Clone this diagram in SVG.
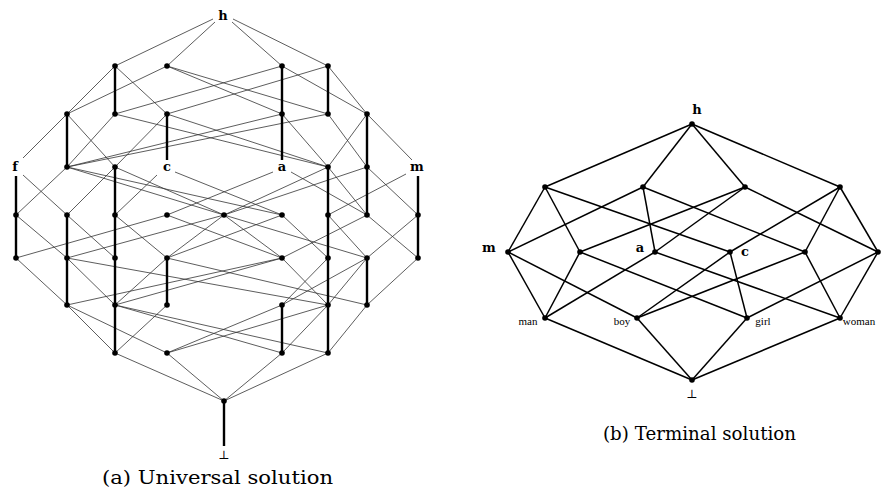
<svg xmlns="http://www.w3.org/2000/svg" width="894" height="493" viewBox="0 0 894 493">
<style>
.e{stroke:#333;stroke-width:0.8;fill:none}
.t{stroke:#000;stroke-width:2.4;fill:none}
.r{stroke:#000;stroke-width:1.5;fill:none}
.d{fill:#000}
.lb{font-family:"DejaVu Serif","Liberation Serif",serif;font-weight:bold;font-size:13px;text-anchor:middle}
.sm{font-family:"Liberation Serif","DejaVu Serif",serif;font-size:11px;text-anchor:middle}
.cap{font-family:"DejaVu Serif","Liberation Serif",serif;font-size:19px}
</style>
<rect width="894" height="493" fill="#fff"/>
<g id="edges-left">
<line class="e" x1="213" y1="19" x2="115" y2="66"/>
<line class="e" x1="215" y1="22" x2="167" y2="66"/>
<line class="e" x1="232" y1="22" x2="282" y2="66"/>
<line class="e" x1="233" y1="19" x2="328" y2="66"/>
<line class="e" x1="115" y1="66" x2="67" y2="114"/>
<line class="e" x1="115" y1="66" x2="167" y2="114"/>
<line class="e" x1="167" y1="66" x2="67" y2="114"/>
<line class="e" x1="167" y1="66" x2="282" y2="114"/>
<line class="e" x1="167" y1="66" x2="328" y2="114"/>
<line class="e" x1="282" y1="66" x2="115" y2="114"/>
<line class="e" x1="282" y1="66" x2="367" y2="114"/>
<line class="e" x1="328" y1="66" x2="167" y2="114"/>
<line class="e" x1="328" y1="66" x2="367" y2="114"/>
<line class="e" x1="67" y1="114" x2="23" y2="158"/>
<line class="e" x1="67" y1="114" x2="115" y2="167"/>
<line class="e" x1="115" y1="114" x2="67" y2="167"/>
<line class="e" x1="115" y1="114" x2="328" y2="167"/>
<line class="e" x1="167" y1="114" x2="115" y2="167"/>
<line class="e" x1="167" y1="114" x2="328" y2="167"/>
<line class="e" x1="282" y1="114" x2="67" y2="167"/>
<line class="e" x1="282" y1="114" x2="328" y2="167"/>
<line class="e" x1="328" y1="114" x2="67" y2="167"/>
<line class="e" x1="328" y1="114" x2="367" y2="167"/>
<line class="e" x1="367" y1="114" x2="328" y2="167"/>
<line class="e" x1="367" y1="114" x2="412" y2="160"/>
<line class="e" x1="23" y1="175" x2="67" y2="215"/>
<line class="e" x1="67" y1="167" x2="16" y2="215"/>
<line class="e" x1="67" y1="167" x2="224" y2="215"/>
<line class="e" x1="67" y1="167" x2="282" y2="215"/>
<line class="e" x1="115" y1="167" x2="67" y2="215"/>
<line class="e" x1="115" y1="167" x2="224" y2="215"/>
<line class="e" x1="157" y1="175" x2="115" y2="215"/>
<line class="e" x1="175" y1="172" x2="282" y2="215"/>
<line class="e" x1="273" y1="172" x2="167" y2="215"/>
<line class="e" x1="291" y1="172" x2="367" y2="215"/>
<line class="e" x1="328" y1="167" x2="367" y2="215"/>
<line class="e" x1="328" y1="167" x2="224" y2="215"/>
<line class="e" x1="367" y1="167" x2="418" y2="215"/>
<line class="e" x1="367" y1="167" x2="224" y2="215"/>
<line class="e" x1="406" y1="174" x2="328" y2="215"/>
<line class="e" x1="16" y1="215" x2="67" y2="258"/>
<line class="e" x1="67" y1="215" x2="115" y2="258"/>
<line class="e" x1="115" y1="215" x2="167" y2="258"/>
<line class="e" x1="167" y1="215" x2="16" y2="258"/>
<line class="e" x1="167" y1="215" x2="282" y2="258"/>
<line class="e" x1="224" y1="215" x2="67" y2="258"/>
<line class="e" x1="224" y1="215" x2="167" y2="258"/>
<line class="e" x1="224" y1="215" x2="282" y2="258"/>
<line class="e" x1="224" y1="215" x2="367" y2="258"/>
<line class="e" x1="282" y1="215" x2="167" y2="258"/>
<line class="e" x1="282" y1="215" x2="328" y2="258"/>
<line class="e" x1="328" y1="215" x2="367" y2="258"/>
<line class="e" x1="367" y1="215" x2="282" y2="258"/>
<line class="e" x1="367" y1="215" x2="418" y2="258"/>
<line class="e" x1="418" y1="215" x2="367" y2="258"/>
<line class="e" x1="16" y1="258" x2="67" y2="305"/>
<line class="e" x1="67" y1="258" x2="115" y2="305"/>
<line class="e" x1="67" y1="258" x2="328" y2="305"/>
<line class="e" x1="167" y1="258" x2="115" y2="305"/>
<line class="e" x1="167" y1="258" x2="367" y2="305"/>
<line class="e" x1="282" y1="258" x2="67" y2="305"/>
<line class="e" x1="282" y1="258" x2="115" y2="305"/>
<line class="e" x1="282" y1="258" x2="328" y2="305"/>
<line class="e" x1="328" y1="258" x2="282" y2="305"/>
<line class="e" x1="367" y1="258" x2="328" y2="305"/>
<line class="e" x1="367" y1="258" x2="282" y2="305"/>
<line class="e" x1="418" y1="258" x2="367" y2="305"/>
<line class="e" x1="67" y1="305" x2="115" y2="353"/>
<line class="e" x1="67" y1="305" x2="167" y2="353"/>
<line class="e" x1="167" y1="305" x2="115" y2="353"/>
<line class="e" x1="115" y1="305" x2="282" y2="353"/>
<line class="e" x1="115" y1="305" x2="328" y2="353"/>
<line class="e" x1="282" y1="305" x2="167" y2="353"/>
<line class="e" x1="328" y1="305" x2="167" y2="353"/>
<line class="e" x1="328" y1="305" x2="282" y2="353"/>
<line class="e" x1="367" y1="305" x2="328" y2="353"/>
<line class="e" x1="115" y1="353" x2="224" y2="401"/>
<line class="e" x1="167" y1="353" x2="224" y2="401"/>
<line class="e" x1="282" y1="353" x2="224" y2="401"/>
<line class="e" x1="328" y1="353" x2="224" y2="401"/>
</g>
<g id="thick-left">
<line class="t" x1="115" y1="66" x2="115" y2="114"/>
<line class="t" x1="67" y1="114" x2="67" y2="167"/>
<line class="t" x1="167" y1="114" x2="167" y2="160"/>
<line class="t" x1="16" y1="176" x2="16" y2="258"/>
<line class="t" x1="67" y1="215" x2="67" y2="305"/>
<line class="t" x1="115" y1="167" x2="115" y2="353"/>
<line class="t" x1="167" y1="258" x2="167" y2="305"/>
<line class="t" x1="224" y1="401" x2="224" y2="446"/>
<line class="t" x1="282" y1="66" x2="282" y2="160"/>
<line class="t" x1="328" y1="66" x2="328" y2="114"/>
<line class="t" x1="367" y1="114" x2="367" y2="215"/>
<line class="t" x1="418" y1="176" x2="418" y2="258"/>
<line class="t" x1="328" y1="167" x2="328" y2="353"/>
<line class="t" x1="367" y1="258" x2="367" y2="305"/>
<line class="t" x1="282" y1="305" x2="282" y2="353"/>
</g>
<g id="nodes-left" class="d">
<circle cx="115" cy="66" r="2.8"/><circle cx="167" cy="66" r="2.8"/><circle cx="282" cy="66" r="2.8"/><circle cx="328" cy="66" r="2.8"/>
<circle cx="67" cy="114" r="2.8"/><circle cx="115" cy="114" r="2.8"/><circle cx="167" cy="114" r="2.8"/><circle cx="282" cy="114" r="2.8"/><circle cx="328" cy="114" r="2.8"/><circle cx="367" cy="114" r="2.8"/>
<circle cx="67" cy="167" r="2.8"/><circle cx="115" cy="167" r="2.8"/><circle cx="328" cy="167" r="2.8"/><circle cx="367" cy="167" r="2.8"/>
<circle cx="16" cy="215" r="2.8"/><circle cx="67" cy="215" r="2.8"/><circle cx="115" cy="215" r="2.8"/><circle cx="167" cy="215" r="2.8"/><circle cx="224" cy="215" r="2.8"/><circle cx="282" cy="215" r="2.8"/><circle cx="328" cy="215" r="2.8"/><circle cx="367" cy="215" r="2.8"/><circle cx="418" cy="215" r="2.8"/>
<circle cx="16" cy="258" r="2.8"/><circle cx="67" cy="258" r="2.8"/><circle cx="115" cy="258" r="2.8"/><circle cx="167" cy="258" r="2.8"/><circle cx="282" cy="258" r="2.8"/><circle cx="328" cy="258" r="2.8"/><circle cx="367" cy="258" r="2.8"/><circle cx="418" cy="258" r="2.8"/>
<circle cx="67" cy="305" r="2.8"/><circle cx="115" cy="305" r="2.8"/><circle cx="167" cy="305" r="2.8"/><circle cx="282" cy="305" r="2.8"/><circle cx="328" cy="305" r="2.8"/><circle cx="367" cy="305" r="2.8"/>
<circle cx="115" cy="353" r="2.8"/><circle cx="167" cy="353" r="2.8"/><circle cx="282" cy="353" r="2.8"/><circle cx="328" cy="353" r="2.8"/>
<circle cx="224" cy="401" r="2.8"/>
</g>
<g id="labels-left">
<text class="lb" x="223" y="20">h</text>
<text class="lb" x="15" y="171">f</text>
<text class="lb" x="167" y="171">c</text>
<text class="lb" x="282" y="171">a</text>
<text class="lb" x="417" y="171">m</text>
<text class="sm" x="224" y="459" style="font-size:12px">⊥</text>
<text class="cap" x="102" y="484" textLength="231" lengthAdjust="spacingAndGlyphs">(a) Universal solution</text>
</g>
<g id="edges-right">
<line class="r" x1="692" y1="124" x2="545" y2="187"/>
<line class="r" x1="692" y1="124" x2="643" y2="187"/>
<line class="r" x1="692" y1="124" x2="745" y2="187"/>
<line class="r" x1="692" y1="124" x2="840" y2="187"/>
<line class="r" x1="545" y1="187" x2="508" y2="252"/>
<line class="r" x1="545" y1="187" x2="580" y2="252"/>
<line class="r" x1="545" y1="187" x2="730" y2="252"/>
<line class="r" x1="643" y1="187" x2="508" y2="252"/>
<line class="r" x1="643" y1="187" x2="655" y2="252"/>
<line class="r" x1="643" y1="187" x2="805" y2="252"/>
<line class="r" x1="745" y1="187" x2="580" y2="252"/>
<line class="r" x1="745" y1="187" x2="655" y2="252"/>
<line class="r" x1="745" y1="187" x2="878" y2="252"/>
<line class="r" x1="840" y1="187" x2="730" y2="252"/>
<line class="r" x1="840" y1="187" x2="805" y2="252"/>
<line class="r" x1="840" y1="187" x2="878" y2="252"/>
<line class="r" x1="545" y1="318" x2="508" y2="252"/>
<line class="r" x1="545" y1="318" x2="580" y2="252"/>
<line class="r" x1="545" y1="318" x2="655" y2="252"/>
<line class="r" x1="637" y1="318" x2="508" y2="252"/>
<line class="r" x1="637" y1="318" x2="730" y2="252"/>
<line class="r" x1="637" y1="318" x2="805" y2="252"/>
<line class="r" x1="747" y1="318" x2="580" y2="252"/>
<line class="r" x1="747" y1="318" x2="730" y2="252"/>
<line class="r" x1="747" y1="318" x2="878" y2="252"/>
<line class="r" x1="840" y1="318" x2="655" y2="252"/>
<line class="r" x1="840" y1="318" x2="805" y2="252"/>
<line class="r" x1="840" y1="318" x2="878" y2="252"/>
<line class="r" x1="545" y1="318" x2="692" y2="380"/>
<line class="r" x1="637" y1="318" x2="692" y2="380"/>
<line class="r" x1="747" y1="318" x2="692" y2="380"/>
<line class="r" x1="840" y1="318" x2="692" y2="380"/>
</g>
<g id="nodes-right" class="d">
<circle cx="692" cy="124" r="2.8"/>
<circle cx="545" cy="187" r="2.8"/><circle cx="643" cy="187" r="2.8"/><circle cx="745" cy="187" r="2.8"/><circle cx="840" cy="187" r="2.8"/>
<circle cx="508" cy="252" r="2.8"/><circle cx="580" cy="252" r="2.8"/><circle cx="655" cy="252" r="2.8"/><circle cx="730" cy="252" r="2.8"/><circle cx="805" cy="252" r="2.8"/><circle cx="878" cy="252" r="2.8"/>
<circle cx="545" cy="318" r="2.8"/><circle cx="637" cy="318" r="2.8"/><circle cx="747" cy="318" r="2.8"/><circle cx="840" cy="318" r="2.8"/>
<circle cx="692" cy="380" r="2.8"/>
</g>
<g id="labels-right">
<text class="lb" x="697" y="114">h</text>
<text class="lb" x="489" y="252">m</text>
<text class="lb" x="640" y="252">a</text>
<text class="lb" x="745" y="256">c</text>
<text class="sm" x="528" y="325">man</text>
<text class="sm" x="622" y="325">boy</text>
<text class="sm" x="763" y="325">girl</text>
<text class="sm" x="859" y="325">woman</text>
<text class="sm" x="692" y="398" style="font-size:12px">⊥</text>
<text class="cap" x="603" y="440" textLength="193" lengthAdjust="spacingAndGlyphs">(b) Terminal solution</text>
</g>
</svg>
